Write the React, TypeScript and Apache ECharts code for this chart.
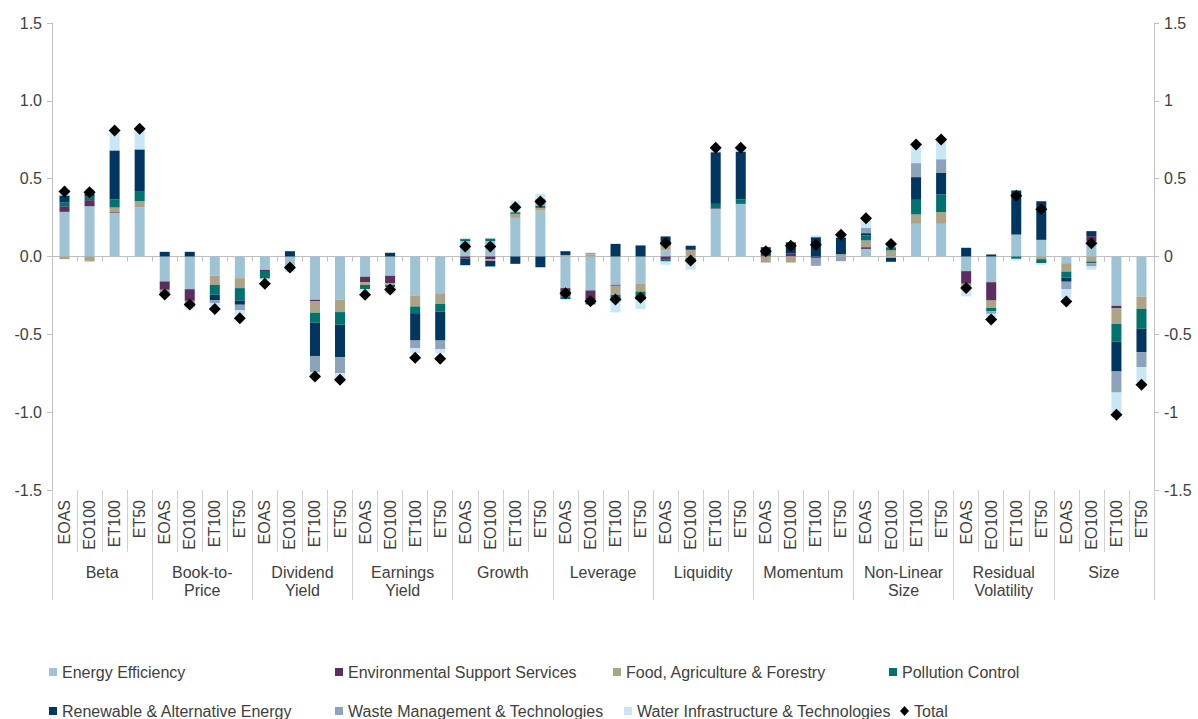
import React, { useEffect, useRef } from "react";
import * as echarts from "echarts";

const groups = ["Beta", "Book-to-\nPrice", "Dividend\nYield", "Earnings\nYield", "Growth", "Leverage", "Liquidity", "Momentum", "Non-Linear\nSize", "Residual\nVolatility", "Size"];
const funds = ["EOAS", "EO100", "ET100", "ET50"];
const categories = groups.flatMap((g, gi) => funds.map((f) => `${gi}|${f}`));

const seriesNames = [
  "Energy Efficiency",
  "Environmental Support Services",
  "Food, Agriculture & Forestry",
  "Pollution Control",
  "Renewable & Alternative Energy",
  "Waste Management & Technologies",
  "Water Infrastructure & Technologies",
];
const seriesColors = ["#9DC3D5", "#5C2D5E", "#ADA386", "#00736F", "#003660", "#8DA3BA", "#C8E6F3"];

const energyEfficiency = [
  0.287, 0.323, 0.28, 0.315,
  -0.16, -0.21, -0.124, -0.139,
  -0.086, -0.06, -0.278, -0.278,
  -0.13, -0.124, -0.25, -0.236,
  0.099, 0.099, 0.248, 0.295,
  -0.203, -0.218, -0.182, -0.176,
  0.039, -0.01, 0.306, 0.338,
  0, 0, 0, 0,
  0.049, -0.008, 0.21, 0.21,
  -0.094, -0.165, 0.141, 0.107,
  -0.043, 0.099, -0.317, -0.257,
];
const environmentalSupport = [
  0.036, 0.039, 0.005, 0,
  -0.054, -0.075, 0, 0,
  -0.013, 0, -0.008, 0,
  -0.034, -0.047, 0, 0,
  -0.013, -0.017, 0, 0,
  -0.054, -0.07, -0.006, 0,
  -0.021, 0, 0.004, 0,
  0.009, 0.021, -0.009, 0,
  0.011, 0, 0, 0,
  -0.081, -0.118, 0, 0,
  0, 0.032, -0.017, 0,
];
const foodAgriculture = [
  -0.017, -0.032, 0.03, 0.041,
  -0.015, -0.017, -0.058, -0.064,
  0, 0, -0.075, -0.079,
  -0.019, -0.011, -0.071, -0.069,
  0, -0.011, 0.026, 0.017,
  0.01, 0.013, -0.058, -0.049,
  0.032, 0.043, 0, 0,
  -0.039, -0.039, 0, 0.015,
  0.043, 0.039, 0.06, 0.075,
  -0.021, -0.047, 0, -0.017,
  -0.054, -0.032, -0.099, -0.079,
];
const pollutionControl = [
  0.026, 0.026, 0.051, 0.06,
  -0.005, -0.02, -0.064, -0.079,
  -0.043, 0, -0.064, -0.081,
  -0.026, -0.015, -0.043, -0.049,
  0.013, 0.017, 0.011, 0.015,
  -0.017, -0.02, -0.036, -0.053,
  -0.011, -0.025, 0.028, 0.028,
  0, 0, 0, 0,
  0.032, 0.021, 0.094, 0.113,
  0, -0.021, -0.015, -0.026,
  -0.039, -0.011, -0.113, -0.128,
];
const renewableEnergy = [
  0.043, 0.017, 0.313, 0.272,
  0.03, 0.03, -0.036, -0.028,
  0, 0.034, -0.214, -0.208,
  0, 0.024, -0.176, -0.186,
  -0.043, -0.036, -0.047, -0.069,
  0.024, 0, 0.081, 0.071,
  0.058, 0.026, 0.332, 0.308,
  0.051, 0.07, 0.124, 0.107,
  0.015, -0.026, 0.146, 0.141,
  0.056, 0.013, 0.283, 0.248,
  -0.026, 0.032, -0.193, -0.15,
];
const wasteManagement = [
  0, 0, 0.005, 0,
  0, 0, -0.017, -0.036,
  0, 0, -0.103, -0.103,
  0, 0, -0.049, -0.054,
  0, 0, 0, 0.045,
  0, 0.011, 0, 0,
  0, 0, 0, 0,
  0, 0, -0.051, -0.03,
  0.034, 0, 0.09, 0.086,
  0, -0.017, 0, 0,
  -0.047, -0.021, -0.135, -0.096,
];
const waterInfrastructure = [
  0.013, 0.03, 0.113, 0.124,
  -0.017, -0.017, -0.02, -0.028,
  -0.01, -0.04, -0.032, -0.039,
  -0.017, -0.045, -0.032, -0.028,
  0.009, 0.005, 0.075, 0.03,
  0, 0, -0.077, -0.06,
  -0.021, -0.05, 0.026, 0.017,
  0, 0, 0.011, 0.015,
  0.058, 0.032, 0.103, 0.12,
  -0.06, -0.021, -0.01, -0.01,
  -0.06, -0.021, -0.154, -0.103,
];
const total = [
  0.417, 0.413, 0.81, 0.82,
  -0.244, -0.308, -0.338, -0.396,
  -0.175, -0.07, -0.771, -0.792,
  -0.246, -0.212, -0.651, -0.657,
  0.064, 0.064, 0.317, 0.353,
  -0.236, -0.287, -0.276, -0.265,
  0.085, -0.026, 0.698, 0.698,
  0.034, 0.069, 0.075, 0.139,
  0.246, 0.081, 0.719, 0.751,
  -0.203, -0.405, 0.39, 0.304,
  -0.289, 0.085, -1.017, -0.824,
];
const yTicks = { min: -1.5, max: 1.5, interval: 0.5 };

const seriesData = [energyEfficiency, environmentalSupport, foodAgriculture, pollutionControl, renewableEnergy, wasteManagement, waterInfrastructure];

const FONT = "'Liberation Sans', Arial, sans-serif";
const TEXT = "#404040";
const LINE = "#BFBFBF";

export default function App() {
  const ref = useRef<HTMLDivElement>(null);
  useEffect(() => {
    if (!ref.current) return;
    const chart = echarts.init(ref.current, undefined, { renderer: "svg" });
    const gridRect = { left: 52, right: 44, top: 23, bottom: 229, containLabel: false };
    const legendPos = [
      [49, 664], [335, 664], [613, 664], [889, 664],
      [49, 703], [335, 703], [624, 703], [900, 703],
    ];
    const legendNames = [...seriesNames, "Total"];
    const option: any = {
      animation: false,
      backgroundColor: "#ffffff",
      textStyle: { fontFamily: FONT },
      grid: [gridRect, gridRect, gridRect],
      legend: legendNames.map((n, i) => ({
        data: [n === "Total" ? { name: n, icon: "diamond" } : { name: n, icon: "rect" }],
        left: legendPos[i][0],
        top: legendPos[i][1],
        padding: 0,
        itemWidth: n === "Total" ? 9 : 8,
        itemHeight: n === "Total" ? 10 : 8,
        textStyle: { fontSize: 16, color: TEXT, fontFamily: FONT },
        selectedMode: false,
      })),
      xAxis: [
        {
          type: "category",
          gridIndex: 0,
          data: categories,
          position: "bottom",
          axisLine: { show: true, onZero: true, lineStyle: { color: LINE } },
          axisTick: { show: true, interval: 0, length: 5, lineStyle: { color: LINE } },
          axisLabel: { show: false },
          splitLine: { show: false },
        },
        {
          type: "category",
          gridIndex: 1,
          data: categories,
          position: "bottom",
          axisLine: { show: false, onZero: false },
          axisTick: { show: true, interval: 0, length: 62, lineStyle: { color: "#D0D0D0" } },
          axisLabel: {
            interval: 0,
            rotate: 90,
            margin: 10,
            fontSize: 16,
            color: TEXT,
            fontFamily: FONT,
            formatter: (v: string) => v.split("|")[1],
          },
          splitLine: { show: false },
        },
        {
          type: "category",
          gridIndex: 2,
          data: groups,
          position: "bottom",
          axisLine: { show: false, onZero: false },
          axisTick: { show: true, interval: 0, length: 110, lineStyle: { color: "#D0D0D0" } },
          axisLabel: {
            interval: 0,
            margin: 73,
            fontSize: 16,
            lineHeight: 18,
            color: TEXT,
            fontFamily: FONT,
          },
          splitLine: { show: false },
        },
      ],
      yAxis: [
        {
          type: "value",
          gridIndex: 0,
          position: "left",
          ...yTicks,
          axisLine: { show: true, lineStyle: { color: LINE } },
          axisTick: { show: true, length: 5, lineStyle: { color: LINE } },
          axisLabel: { fontSize: 16, color: TEXT, margin: 10, fontFamily: FONT, formatter: (v: number) => v.toFixed(1) },
          splitLine: { show: false },
        },
        {
          type: "value",
          gridIndex: 0,
          position: "right",
          ...yTicks,
          axisLine: { show: true, lineStyle: { color: LINE } },
          axisTick: { show: true, length: 5, lineStyle: { color: LINE } },
          axisLabel: { fontSize: 16, color: TEXT, margin: 10, fontFamily: FONT, formatter: (v: number) => String(v) },
          splitLine: { show: false },
        },
        { type: "value", gridIndex: 1, ...yTicks, show: false },
        { type: "value", gridIndex: 2, ...yTicks, show: false },
      ],
      series: [
        ...seriesNames.map((n, i) => ({
          name: n,
          type: "bar",
          stack: "total",
          stackStrategy: "samesign",
          xAxisIndex: 0,
          yAxisIndex: 0,
          barWidth: "40%",
          itemStyle: { color: seriesColors[i] },
          data: seriesData[i],
        })),
        {
          name: "Total",
          type: "scatter",
          xAxisIndex: 0,
          yAxisIndex: 0,
          symbol: "diamond",
          symbolSize: 12,
          itemStyle: { color: "#000000", opacity: 1 },
          z: 10,
          data: total,
        },
      ],
    };
    chart.setOption(option);
    return () => chart.dispose();
  }, []);
  return (
    <div
      ref={ref}
      style={{ position: "fixed", left: 0, top: 0, width: 1198, height: 719, background: "#fff" }}
    />
  );
}
